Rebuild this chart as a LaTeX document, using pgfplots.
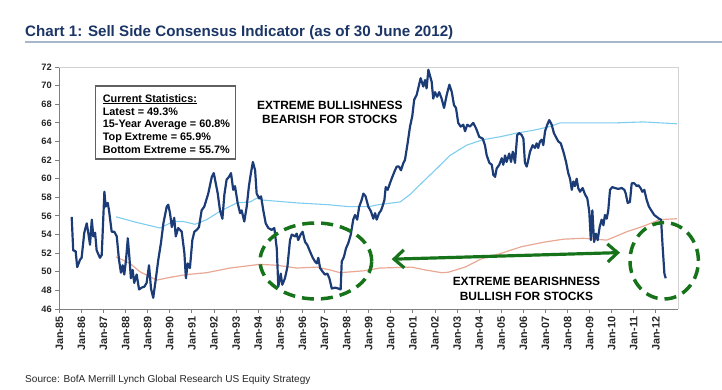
\documentclass[border=0pt]{standalone}
\usepackage{fontspec}
\setmainfont{Liberation Sans}
\usepackage{pgfplots}
\usepackage{pgfplotstable}
\pgfplotsset{compat=1.18}
\usetikzlibrary{arrows.meta}
\definecolor{navy}{HTML}{1C3C78}
\definecolor{skyb}{HTML}{7FCDEE}
\definecolor{salmon}{HTML}{E9A894}
\definecolor{dgreen}{HTML}{17731A}
\definecolor{titleblue}{HTML}{1B3566}
\definecolor{rulecol}{HTML}{A7B6CB}
\definecolor{axgray}{HTML}{7F7F7F}

\pgfplotstableread{
x y
1985.56 55.9
1985.63 52.3
1985.74 52.2
1985.81 50.5
1985.94 51.3
1986.01 51.5
1986.13 54.2
1986.24 55.2
1986.31 54.2
1986.39 52.9
1986.47 55.6
1986.54 53.8
1986.62 54.2
1986.69 52.3
1986.84 51.5
1986.92 51.8
1987.04 58.6
1987.10 57.0
1987.19 57.4
1987.25 56.6
1987.37 54.3
1987.49 54.3
1987.60 53.8
1987.70 51.3
1987.79 49.9
1987.87 50.7
1987.94 49.7
1988.02 51.3
1988.10 53.6
1988.17 51.6
1988.24 49.3
1988.32 50.2
1988.39 48.8
1988.50 49.7
1988.61 48.1
1988.73 48.3
1988.85 48.4
1988.95 48.8
1989.06 50.7
1989.15 48.2
1989.25 47.2
1989.36 49.1
1989.48 51.3
1989.60 53.1
1989.71 55.2
1989.86 57.0
1989.93 57.2
1990.01 56.3
1990.09 54.8
1990.20 55.8
1990.27 53.8
1990.38 54.7
1990.54 54.3
1990.66 52.0
1990.73 49.3
1990.81 50.9
1990.91 50.4
1991.02 53.4
1991.11 54.3
1991.22 54.5
1991.32 54.8
1991.44 56.6
1991.56 57.0
1991.74 58.4
1991.90 60.2
1991.99 60.6
1992.08 59.5
1992.17 58.4
1992.27 56.6
1992.38 55.7
1992.47 58.3
1992.57 59.9
1992.68 60.2
1992.77 60.6
1992.87 58.8
1992.95 59.2
1993.07 57.4
1993.18 56.3
1993.25 56.6
1993.37 55.4
1993.48 57.0
1993.58 59.2
1993.67 60.6
1993.76 61.8
1993.86 60.9
1993.93 58.4
1994.04 57.9
1994.13 58.1
1994.23 56.6
1994.34 55.2
1994.46 54.7
1994.61 54.5
1994.73 54.7
1994.84 52.5
1994.91 48.4
1995.02 49.8
1995.09 48.6
1995.21 49.3
1995.32 50.5
1995.44 53.4
1995.52 54.0
1995.67 53.8
1995.74 54.1
1995.81 53.4
1995.92 54.0
1996.01 54.3
1996.12 53.2
1996.22 52.9
1996.34 52.2
1996.47 51.5
1996.57 51.1
1996.65 50.9
1996.72 51.5
1996.80 50.4
1996.92 50.0
1997.02 49.7
1997.13 49.8
1997.22 49.3
1997.33 48.2
1997.48 48.3
1997.62 48.2
1997.73 48.1
1997.78 51.1
1997.88 51.6
1997.97 52.5
1998.08 53.1
1998.19 54.0
1998.30 55.6
1998.38 56.1
1998.48 55.6
1998.57 57.0
1998.68 57.7
1998.76 58.4
1998.86 58.1
1998.98 57.0
1999.10 56.5
1999.21 55.7
1999.29 56.3
1999.36 55.6
1999.47 56.3
1999.56 56.6
1999.62 57.0
1999.71 57.7
1999.77 59.1
1999.86 58.8
1999.96 59.5
2000.07 60.2
2000.19 60.9
2000.27 61.3
2000.37 61.3
2000.46 60.9
2000.57 61.7
2000.64 62.0
2000.76 63.8
2000.87 65.6
2000.97 66.7
2001.06 68.5
2001.17 69.0
2001.24 69.7
2001.35 70.8
2001.47 69.9
2001.55 70.6
2001.62 69.7
2001.70 71.7
2001.77 71.1
2001.85 70.4
2001.92 68.6
2002.00 69.3
2002.10 68.8
2002.19 69.3
2002.30 68.6
2002.41 67.6
2002.53 69.0
2002.65 70.1
2002.76 69.3
2002.86 67.9
2002.95 67.6
2003.05 66.0
2003.16 65.6
2003.28 65.8
2003.36 65.1
2003.46 65.8
2003.58 65.6
2003.73 66.0
2003.86 65.4
2004.00 64.5
2004.16 64.3
2004.26 63.6
2004.34 62.5
2004.46 61.7
2004.57 61.5
2004.64 60.4
2004.72 60.2
2004.79 61.1
2004.91 61.5
2005.02 62.2
2005.09 61.5
2005.17 62.5
2005.24 61.8
2005.36 62.7
2005.44 61.8
2005.52 62.9
2005.62 61.7
2005.72 64.7
2005.81 64.9
2005.92 64.7
2006.00 64.3
2006.07 61.7
2006.15 61.3
2006.22 62.0
2006.30 62.9
2006.42 63.6
2006.52 63.3
2006.60 63.8
2006.67 63.3
2006.75 64.0
2006.83 64.2
2006.90 63.6
2006.98 65.1
2007.08 65.8
2007.17 66.3
2007.28 65.8
2007.38 64.9
2007.51 64.3
2007.58 64.0
2007.69 63.8
2007.81 62.9
2007.93 61.8
2008.03 60.6
2008.11 60.0
2008.19 58.8
2008.26 59.7
2008.33 59.2
2008.41 60.0
2008.48 59.0
2008.56 58.6
2008.68 59.0
2008.79 58.3
2008.89 57.9
2008.98 56.5
2009.05 53.4
2009.12 56.6
2009.20 53.2
2009.28 54.1
2009.36 53.4
2009.45 54.8
2009.54 55.6
2009.62 55.0
2009.69 56.1
2009.77 55.7
2009.84 56.6
2009.92 58.8
2010.02 59.1
2010.14 59.0
2010.29 58.9
2010.45 59.0
2010.57 58.8
2010.63 58.4
2010.72 57.4
2010.82 57.5
2010.90 59.5
2011.02 59.5
2011.13 59.2
2011.20 59.3
2011.30 59.0
2011.38 58.6
2011.47 58.8
2011.58 57.7
2011.68 57.0
2011.81 56.5
2011.92 56.1
2012.03 55.9
2012.14 55.7
2012.23 55.6
2012.30 52.7
2012.38 49.8
2012.44 49.3
}\mainseries

\pgfplotstableread{
x y
1987.57 55.9
1988.50 55.3
1989.56 54.7
1990.16 55.4
1990.61 55.4
1991.14 55.1
1991.67 55.6
1992.27 56.5
1993.03 57.4
1993.63 57.5
1993.93 57.9
1994.23 57.7
1995.75 57.4
1997.20 57.2
1998.08 57.0
1999.00 57.0
1999.43 57.2
2000.42 57.5
2000.87 58.3
2001.47 59.7
2002.08 61.1
2002.68 62.5
2003.43 63.6
2004.19 64.2
2004.94 64.5
2005.70 64.9
2006.45 65.2
2007.20 65.6
2007.66 66.0
2008.70 66.0
2010.20 66.0
2011.43 66.1
2012.18 66.0
2012.94 65.9
}\topextreme

\pgfplotstableread{
x y
1987.57 51.6
1988.20 50.9
1988.65 50.0
1989.41 49.1
1990.01 49.4
1990.76 49.7
1991.67 49.9
1992.72 50.4
1994.08 50.8
1994.84 50.7
1995.74 50.4
1996.65 50.5
1997.25 50.2
1997.70 49.9
1998.76 50.1
1999.51 50.4
2000.94 50.5
2001.55 50.2
2002.30 49.9
2002.60 49.95
2003.36 50.5
2004.11 51.4
2005.02 52.0
2005.92 52.7
2006.98 53.2
2007.81 53.5
2008.71 53.6
2009.77 53.4
2010.68 54.3
2011.43 54.9
2012.18 55.6
2012.94 55.7
}\bottomextreme

\begin{document}
\begin{tikzpicture}
\useasboundingbox (-59.3bp,-81bp) rectangle (662.7bp,309bp);
\begin{axis}[
  at={(0,0)}, anchor=south west,
  scale only axis, width=618.8bp, height=242bp,
  xmin=1985, xmax=2013, ymin=46, ymax=72,
  axis lines*=left,
  axis line style={draw=axgray, line width=0.9pt},
  ytick={46,48,...,72},
  xtick={1985,...,2012},
  xticklabels={Jan-85,Jan-86,Jan-87,Jan-88,Jan-89,Jan-90,Jan-91,Jan-92,Jan-93,Jan-94,Jan-95,Jan-96,Jan-97,Jan-98,Jan-99,Jan-00,Jan-01,Jan-02,Jan-03,Jan-04,Jan-05,Jan-06,Jan-07,Jan-08,Jan-09,Jan-10,Jan-11,Jan-12},
  tick align=outside, major tick length=4bp,
  tick style={draw=axgray, line width=0.9pt},
  xticklabel style={rotate=90, anchor=east, text=black!85, font=\bfseries\fontsize{10.8}{12}\selectfont},
  yticklabel style={text=black!85, font=\bfseries\fontsize{9.3}{11}\selectfont},
  /pgf/number format/assume math mode=true,
  clip=false,
]
\addplot[skyb, line width=1.1pt] table {\topextreme};
\addplot[salmon, line width=1.2pt] table {\bottomextreme};
\addplot[navy, line width=2.2pt, line join=round] table {\mainseries};

\draw[gray!35, line width=0.8pt] (rel axis cs:0,1) -- (rel axis cs:1,1) -- (rel axis cs:1,0);

% statistics box
\draw[gray!75!black, line width=1.2pt] (axis cs:1986.62,69.96) rectangle (axis cs:1992.98,62.12);
\node[anchor=base west, inner sep=0, font=\bfseries\fontsize{10.9}{13}\selectfont] at (axis cs:1986.96,68.22) {\underline{Current Statistics:}};
\node[anchor=base west, inner sep=0, font=\bfseries\fontsize{10.9}{13}\selectfont] at (axis cs:1986.96,66.84) {Latest = 49.3\%};
\node[anchor=base west, inner sep=0, font=\bfseries\fontsize{10.9}{13}\selectfont] at (axis cs:1986.96,65.45) {15-Year Average = 60.8\%};
\node[anchor=base west, inner sep=0, font=\bfseries\fontsize{10.9}{13}\selectfont] at (axis cs:1986.96,64.09) {Top Extreme = 65.9\%};
\node[anchor=base west, inner sep=0, font=\bfseries\fontsize{10.9}{13}\selectfont] at (axis cs:1986.96,62.67) {Bottom Extreme = 55.7\%};

% annotations
\node[inner sep=0, font=\bfseries\fontsize{12}{14}\selectfont] at (axis cs:1997.24,67.92) {EXTREME BULLISHNESS};
\node[inner sep=0, font=\bfseries\fontsize{12}{14}\selectfont] at (axis cs:1997.24,66.38) {BEARISH FOR STOCKS};
\node[inner sep=0, font=\bfseries\fontsize{12}{14}\selectfont] at (axis cs:2006.14,49.01) {EXTREME BEARISHNESS};
\node[inner sep=0, font=\bfseries\fontsize{12}{14}\selectfont] at (axis cs:2006.14,47.33) {BULLISH FOR STOCKS};

\draw[dgreen, line width=3.5pt, dash pattern=on 12bp off 7bp] (axis cs:1996.61,51.16) ellipse [x radius=55.8bp, y radius=38bp];
\draw[dgreen, line width=3.5pt, dash pattern=on 12bp off 7bp] (axis cs:2012.37,51.18) ellipse [x radius=34.2bp, y radius=38.2bp];
\draw[dgreen, line width=3.2pt, {Straight Barb[length=10bp,width=18bp]}-{Straight Barb[length=10bp,width=18bp]}] (axis cs:2000.04,51.35) -- (axis cs:2010.37,52.06);
\end{axis}

\node[anchor=base west, inner sep=0, text=titleblue, font=\bfseries\fontsize{15.2}{18}\selectfont] at (-34.3bp,272bp) {Chart 1: Sell Side Consensus Indicator (as of 30 June 2012)};
\draw[rulecol, line width=1.8bp] (-34.3bp,267.3bp) -- (662.7bp,267.3bp);
\node[anchor=base west, inner sep=0, text=black!85, font=\fontsize{10.1}{12}\selectfont] at (-34.3bp,-73bp) {Source: BofA Merrill Lynch Global Research US Equity Strategy};
\end{tikzpicture}
\end{document}
